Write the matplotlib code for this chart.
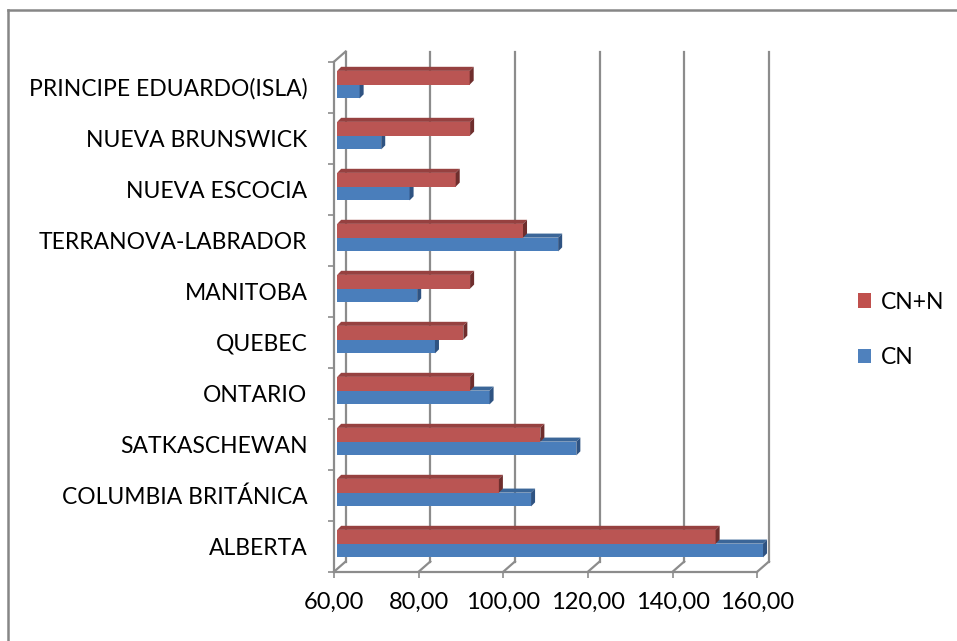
import matplotlib
matplotlib.use("Agg")
import matplotlib.pyplot as plt
from matplotlib.patches import Polygon, Patch
from matplotlib.lines import Line2D

plt.rcParams['font.family'] = ['Lato', 'DejaVu Sans']

categories = ["ALBERTA", "COLUMBIA BRITÁNICA", "SATKASCHEWAN", "ONTARIO", "QUEBEC",
              "MANITOBA", "TERRANOVA-LABRADOR", "NUEVA ESCOCIA", "NUEVA BRUNSWICK",
              "PRINCIPE EDUARDO(ISLA)"]
cn = [160.6, 105.8, 116.5, 96.0, 83.1, 78.9, 112.2, 77.1, 70.4, 65.3]
cn_n = [149.4, 98.2, 108.0, 91.4, 89.8, 91.4, 103.9, 88.0, 91.4, 91.3]
xticks = [60, 80, 100, 120, 140, 160]
xtick_labels = ["60,00", "80,00", "100,00", "120,00", "140,00", "160,00"]

XMIN, XMAX = 60, 160
GRID = "#8C8C8C"

# pseudo-3D geometry in data units
WX, WY = 2.75, 0.2      # depth of back wall
OX, OY = 0.75, 0.05     # bars sit slightly behind the front plane
DX, DY = 0.95, 0.08     # bar depth
BH = 0.27               # bar thickness

fig = plt.figure(figsize=(9.57, 6.41), dpi=100)
ax = fig.add_axes([334 / 957, 69.3 / 641, 423.3 / 957, 510 / 641])
ax.set_xlim(XMIN, XMAX)
ax.set_ylim(-0.5, len(categories) - 0.5)
ax.patch.set_alpha(0)

n = len(categories)
top = n - 0.5
# back wall and floor structure
lw = 1.6
ax.plot([XMIN + WX, XMIN + WX], [-0.5 + WY, top + WY], color=GRID, lw=lw, clip_on=False, zorder=1)
ax.plot([XMIN, XMIN + WX], [top, top + WY], color=GRID, lw=lw, clip_on=False, zorder=1)
for x in xticks:
    ax.plot([x, x + WX], [-0.5, -0.5 + WY], color=GRID, lw=lw, clip_on=False, zorder=1)
    if x > XMIN:
        ax.plot([x + WX, x + WX], [-0.5 + WY, top + WY], color=GRID, lw=lw, clip_on=False, zorder=1)


def bar3d(yc, value, front, topc, side):
    y0, y1 = yc - BH / 2 + OY, yc + BH / 2 + OY
    x0, x1 = XMIN + OX, value + OX
    ax.barh(yc + OY, value - XMIN, left=XMIN + OX, height=BH, color=front,
            edgecolor='none', clip_on=False, zorder=3)
    ax.add_patch(Polygon([(x0, y1), (x1, y1), (x1 + DX, y1 + DY), (x0 + DX, y1 + DY)],
                         closed=True, facecolor=topc, edgecolor='none', clip_on=False, zorder=3))
    ax.add_patch(Polygon([(x1, y0), (x1, y1), (x1 + DX, y1 + DY), (x1 + DX, y0 + DY)],
                         closed=True, facecolor=side, edgecolor='none', clip_on=False, zorder=3))


for i in range(n):
    bar3d(i - BH / 2, cn[i], "#4A7EBB", "#3B6698", "#2F5382")
    bar3d(i + BH / 2, cn_n[i], "#BA5553", "#964140", "#6F2E2D")

# axes, ticks and labels
for s in ["top", "right"]:
    ax.spines[s].set_visible(False)
for s in ["left", "bottom"]:
    ax.spines[s].set_color(GRID)
    ax.spines[s].set_linewidth(lw)
ax.set_xticks(xticks)
ax.set_xticklabels(xtick_labels, fontsize=17)
ax.set_yticks(range(n))
ax.set_yticklabels(categories, fontsize=16.5)
ax.set_yticks([i - 0.5 for i in range(n + 1)], minor=True)
ax.tick_params(axis='y', which='major', length=0, pad=19)
ax.tick_params(axis='y', which='minor', length=4.5, width=1.2, color=GRID)
ax.tick_params(axis='x', length=4.5, width=1.2, color=GRID, pad=10)

# legend
handles = [Patch(facecolor="#C0504D", edgecolor='none', label="CN+N"),
           Patch(facecolor="#4F81BD", edgecolor='none', label="CN")]
fig.legend(handles=handles, loc='center left', bbox_to_anchor=(837 / 957, 1 - 330 / 641),
           frameon=False, fontsize=16.5, handlelength=0.6, handleheight=0.6,
           handletextpad=0.4, labelspacing=1.5)

# outer chart border
fig.add_artist(Line2D([8 / 957, 1.0], [1 - 10 / 641, 1 - 10 / 641], color="#868686", lw=1.8,
                      transform=fig.transFigure))
fig.add_artist(Line2D([8 / 957, 8 / 957], [0.0, 1 - 10 / 641], color="#868686", lw=1.8,
                      transform=fig.transFigure))

fig.savefig("out.png", dpi=100)
